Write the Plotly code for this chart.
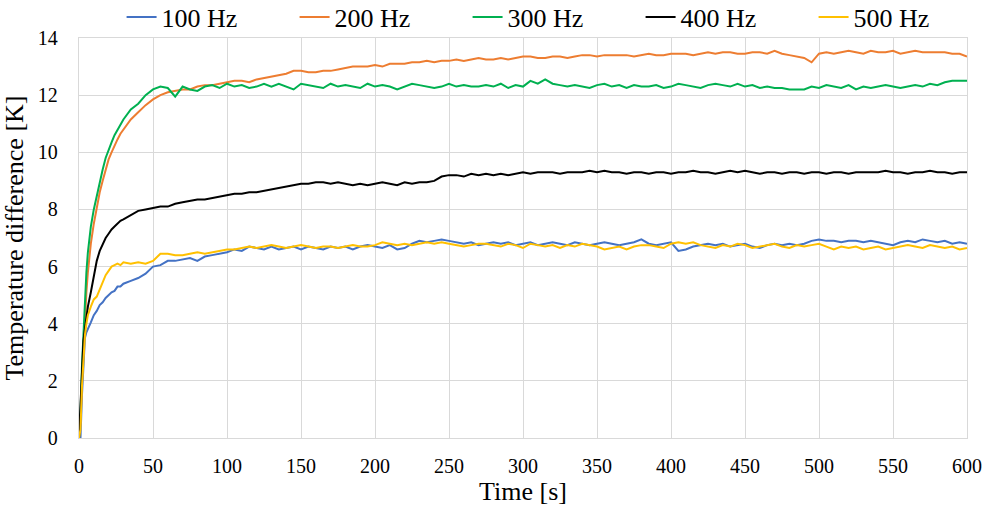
import plotly.graph_objects as go

t_early = [0, 1, 2, 3, 4, 5, 6, 8, 10, 12, 14, 16, 18, 20, 22, 24, 26, 28, 30]
t_late = list(range(35, 601, 5))
time_s = t_early + t_late

hz100 = [0, 0.0, 1.5, 2.8, 3.5, 3.7, 3.8, 4.05, 4.3, 4.45, 4.65, 4.75, 4.9, 5.0, 5.1, 5.15, 5.3, 5.3, 5.4,
         5.5, 5.6, 5.75, 6.0, 6.05, 6.2, 6.2, 6.25, 6.3, 6.2,
         6.35, 6.4, 6.45, 6.5, 6.6, 6.55, 6.7, 6.65, 6.6, 6.7,
         6.6, 6.65, 6.7, 6.6, 6.7, 6.65, 6.6, 6.7, 6.65, 6.7,
         6.6, 6.7, 6.75, 6.7, 6.65, 6.75, 6.6, 6.65, 6.8, 6.9,
         6.85, 6.9, 6.95, 6.9, 6.85, 6.8, 6.85, 6.75, 6.8, 6.85,
         6.8, 6.85, 6.75, 6.8, 6.85, 6.75, 6.8, 6.85, 6.8, 6.75,
         6.85, 6.8, 6.75, 6.8, 6.85, 6.8, 6.75, 6.8, 6.85, 6.95,
         6.8, 6.75, 6.8, 6.85, 6.55, 6.6, 6.7, 6.75, 6.8, 6.75,
         6.8, 6.7, 6.75, 6.8, 6.7, 6.65, 6.75, 6.8, 6.75, 6.8,
         6.75, 6.8, 6.9, 6.95, 6.9, 6.9, 6.85, 6.9, 6.9, 6.85,
         6.9, 6.85, 6.8, 6.75, 6.85, 6.9, 6.85, 6.95, 6.9, 6.85,
         6.9, 6.8, 6.85, 6.8]

hz200 = [0, 0.6, 2.0, 3.2, 4.3, 5.1, 5.8, 6.8, 7.5, 8.1, 8.6, 9.0, 9.4, 9.75, 10.0, 10.25, 10.45, 10.65, 10.8,
         11.15, 11.4, 11.65, 11.85, 12.0, 12.1, 12.15, 12.2, 12.2, 12.3,
         12.35, 12.35, 12.4, 12.45, 12.5, 12.5, 12.45, 12.55, 12.6, 12.65,
         12.7, 12.75, 12.85, 12.85, 12.8, 12.8, 12.85, 12.85, 12.9, 12.95,
         13.0, 13.0, 13.0, 13.05, 13.0, 13.1, 13.1, 13.1, 13.15, 13.15,
         13.2, 13.15, 13.2, 13.2, 13.25, 13.2, 13.25, 13.3, 13.25, 13.25,
         13.3, 13.25, 13.3, 13.35, 13.35, 13.3, 13.3, 13.35, 13.35, 13.3,
         13.35, 13.4, 13.4, 13.35, 13.4, 13.4, 13.4, 13.4, 13.35, 13.4,
         13.45, 13.4, 13.4, 13.45, 13.45, 13.45, 13.4, 13.45, 13.5, 13.45,
         13.5, 13.5, 13.45, 13.45, 13.5, 13.5, 13.45, 13.55, 13.45, 13.4,
         13.35, 13.3, 13.15, 13.45, 13.5, 13.45, 13.5, 13.55, 13.5, 13.45,
         13.55, 13.5, 13.5, 13.55, 13.45, 13.5, 13.55, 13.5, 13.5, 13.5,
         13.5, 13.45, 13.45, 13.35]

hz300 = [0, 0.8, 2.5, 3.8, 5.0, 5.8, 6.5, 7.4, 8.0, 8.5, 9.0, 9.4, 9.8, 10.1, 10.35, 10.6, 10.8, 11.0, 11.15,
         11.5, 11.7, 12.0, 12.2, 12.3, 12.25, 11.95, 12.3, 12.2, 12.15,
         12.3, 12.35, 12.25, 12.4, 12.3, 12.35, 12.25, 12.3, 12.4, 12.3,
         12.4, 12.3, 12.2, 12.4, 12.35, 12.3, 12.25, 12.4, 12.3, 12.35,
         12.3, 12.25, 12.4, 12.3, 12.35, 12.3, 12.2, 12.3, 12.4, 12.35,
         12.3, 12.25, 12.3, 12.4, 12.3, 12.35, 12.3, 12.3, 12.35, 12.3,
         12.4, 12.25, 12.35, 12.3, 12.5, 12.4, 12.55, 12.4, 12.35, 12.3,
         12.35, 12.3, 12.25, 12.35, 12.4, 12.3, 12.35, 12.25, 12.35, 12.3,
         12.3, 12.35, 12.25, 12.3, 12.4, 12.35, 12.3, 12.25, 12.35, 12.4,
         12.35, 12.3, 12.4, 12.3, 12.35, 12.25, 12.3, 12.25, 12.25, 12.2,
         12.2, 12.2, 12.3, 12.25, 12.35, 12.3, 12.25, 12.35, 12.2, 12.3,
         12.25, 12.3, 12.35, 12.3, 12.25, 12.3, 12.35, 12.3, 12.4, 12.35,
         12.45, 12.5, 12.5, 12.5]

hz400 = [0, 1.2, 2.5, 3.4, 3.8, 4.2, 4.6, 5.1, 5.6, 6.2, 6.55, 6.8, 7.0, 7.15, 7.3, 7.4, 7.5, 7.6, 7.65,
         7.8, 7.95, 8.0, 8.05, 8.1, 8.1, 8.2, 8.25, 8.3, 8.35,
         8.35, 8.4, 8.45, 8.5, 8.55, 8.55, 8.6, 8.6, 8.65, 8.7,
         8.75, 8.8, 8.85, 8.9, 8.9, 8.95, 8.95, 8.9, 8.95, 8.9,
         8.85, 8.9, 8.85, 8.9, 8.95, 8.9, 8.85, 8.95, 8.9, 8.95,
         8.95, 9.0, 9.15, 9.2, 9.2, 9.15, 9.25, 9.2, 9.25, 9.2,
         9.25, 9.2, 9.25, 9.3, 9.25, 9.3, 9.3, 9.3, 9.25, 9.3,
         9.3, 9.3, 9.35, 9.3, 9.35, 9.3, 9.3, 9.25, 9.3, 9.3,
         9.25, 9.3, 9.3, 9.25, 9.3, 9.3, 9.35, 9.3, 9.3, 9.25,
         9.3, 9.35, 9.3, 9.35, 9.3, 9.25, 9.3, 9.3, 9.25, 9.3,
         9.3, 9.25, 9.3, 9.3, 9.25, 9.3, 9.3, 9.25, 9.3, 9.3,
         9.3, 9.3, 9.35, 9.3, 9.3, 9.25, 9.3, 9.3, 9.35, 9.3,
         9.3, 9.25, 9.3, 9.3]

hz500 = [0, 0.3, 1.8, 3.0, 3.6, 4.0, 4.3, 4.6, 4.85, 4.95, 5.2, 5.45, 5.7, 5.85, 6.0, 6.05, 6.1, 6.05, 6.15,
         6.1, 6.15, 6.1, 6.2, 6.45, 6.45, 6.4, 6.4, 6.45, 6.5,
         6.45, 6.5, 6.55, 6.6, 6.6, 6.65, 6.7, 6.65, 6.7, 6.75,
         6.7, 6.65, 6.7, 6.75, 6.7, 6.65, 6.7, 6.7, 6.65, 6.7,
         6.75, 6.7, 6.7, 6.75, 6.85, 6.8, 6.75, 6.8, 6.75, 6.8,
         6.85, 6.8, 6.85, 6.8, 6.75, 6.7, 6.75, 6.8, 6.8, 6.75,
         6.7, 6.8, 6.75, 6.65, 6.8, 6.75, 6.7, 6.75, 6.65, 6.75,
         6.7, 6.8, 6.75, 6.7, 6.6, 6.65, 6.7, 6.6, 6.7, 6.75,
         6.75, 6.7, 6.65, 6.8, 6.85, 6.8, 6.85, 6.75, 6.7, 6.65,
         6.75, 6.7, 6.8, 6.75, 6.65, 6.7, 6.75, 6.8, 6.7, 6.65,
         6.75, 6.7, 6.75, 6.8, 6.7, 6.6, 6.7, 6.65, 6.7, 6.6,
         6.65, 6.7, 6.6, 6.65, 6.7, 6.75, 6.7, 6.65, 6.75, 6.7,
         6.65, 6.7, 6.6, 6.65]

series_names = ["100 Hz", "200 Hz", "300 Hz", "400 Hz", "500 Hz"]
series_vals = [hz100, hz200, hz300, hz400, hz500]
colors = ["#4472C4", "#ED7D31", "#00B050", "#000000", "#FFC000"]

x_ticks = [0, 50, 100, 150, 200, 250, 300, 350, 400, 450, 500, 550, 600]
y_ticks = [0, 2, 4, 6, 8, 10, 12, 14]

FONT = "Liberation Serif"
GRID = "#D9D9D9"

fig = go.Figure()
for name, vals, col in zip(series_names, series_vals, colors):
    fig.add_trace(go.Scatter(x=time_s, y=vals, mode="lines", name=name,
                             line=dict(color=col, width=2)))

fig.update_layout(
    width=994, height=506,
    margin=dict(l=79, r=27, t=38, b=68, autoexpand=False),
    paper_bgcolor="white", plot_bgcolor="white",
    font=dict(family=FONT, color="black", size=20),
    showlegend=True,
    legend=dict(orientation="h", x=0.535, xanchor="center", y=1.0525, yanchor="middle",
                font=dict(size=26, family=FONT), entrywidth=128, entrywidthmode="pixels",
                itemwidth=30, bgcolor="rgba(0,0,0,0)", tracegroupgap=0),
    xaxis=dict(range=[0, 600], tickvals=x_ticks, showgrid=True, gridcolor=GRID, gridwidth=1.3,
               zeroline=False, showline=True, linecolor=GRID, linewidth=1.3, mirror=True,
               automargin=False,
               ticks="", tickfont=dict(size=20, family=FONT), ticklabelstandoff=10,
               title=dict(text="Time [s]", font=dict(size=26, family=FONT), standoff=6)),
    yaxis=dict(range=[0, 14], tickvals=y_ticks, showgrid=True, gridcolor=GRID, gridwidth=1.3,
               zeroline=False, showline=True, linecolor=GRID, linewidth=1.3, mirror=True,
               automargin=False,
               ticks="", tickfont=dict(size=20, family=FONT), ticklabelstandoff=16,
               title=dict(text="Temperature difference [K]", font=dict(size=26, family=FONT), standoff=6)),
)

fig.write_html("out.html", config={"displayModeBar": False},
               post_script="document.body.style.margin='0';document.body.style.overflow='hidden';")
